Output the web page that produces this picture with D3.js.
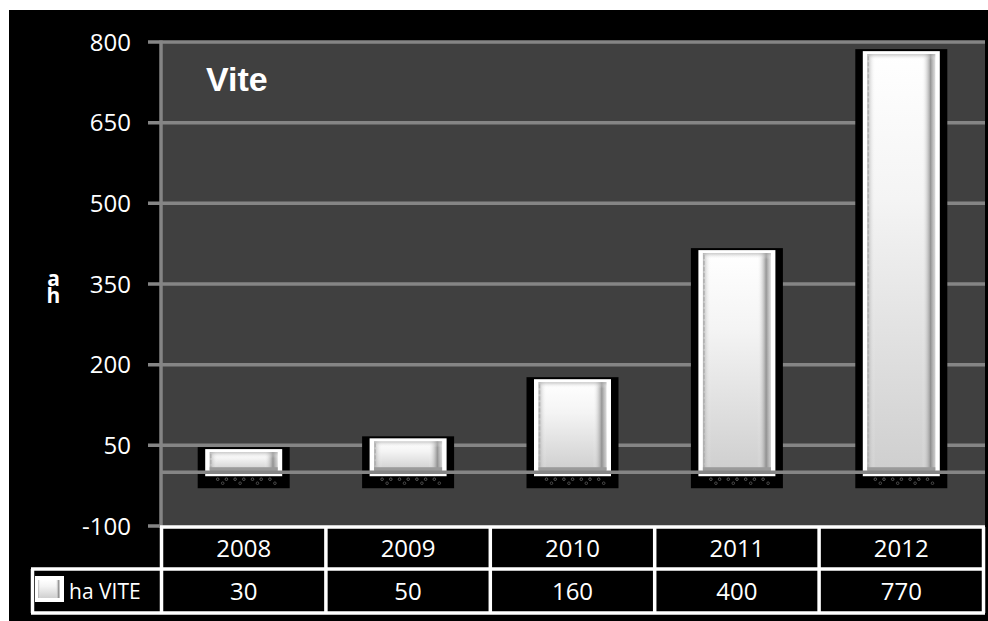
<!DOCTYPE html>
<html>
<head>
<meta charset="utf-8">
<script src="https://cdn.jsdelivr.net/npm/d3@7"></script>
<style>
  html, body { margin: 0; padding: 0; background: #ffffff; }
  svg { display: block; }
</style>
</head>
<body>
<svg id="chart" width="988" height="621"></svg>
<script>
// Hectares of vineyard per year
const years = ["2008", "2009", "2010", "2011", "2012"];
const haVite = [30, 50, 160, 400, 770];
const seriesName = "ha VITE";
const chartTitle = "Vite";
const axisTitle = "ah";
const yTicks = [-100, 50, 200, 350, 500, 650, 800];

const svg = d3.select("#chart");
const W = 988, H = 621;

const plot = { left: 160, right: 985, top: 42, bottom: 526 };
const table = { left: 161.5, right: 983.5, row1: 527, row2: 569, row3: 613, headLeft: 32.5 };

const y = d3.scaleLinear().domain([-100, 800]).range([plot.bottom, plot.top]);
const x = d3.scaleBand().domain(years).range([table.left, table.right]).padding(0);

// defs: bar shading
const defs = svg.append("defs");
const vg = defs.append("linearGradient").attr("id", "barV").attr("x1", 0).attr("y1", 0).attr("x2", 0).attr("y2", 1);
vg.append("stop").attr("offset", "0%").attr("stop-color", "#ffffff");
vg.append("stop").attr("offset", "35%").attr("stop-color", "#f4f4f4");
vg.append("stop").attr("offset", "100%").attr("stop-color", "#cfcfcf");
const hg = defs.append("linearGradient").attr("id", "barH").attr("x1", 0).attr("y1", 0).attr("x2", 1).attr("y2", 0);
hg.append("stop").attr("offset", "0%").attr("stop-color", "#9a9a9a").attr("stop-opacity", 0.7);
hg.append("stop").attr("offset", "12%").attr("stop-color", "#ffffff").attr("stop-opacity", 0);
hg.append("stop").attr("offset", "80%").attr("stop-color", "#ffffff").attr("stop-opacity", 0);
hg.append("stop").attr("offset", "93%").attr("stop-color", "#858585").attr("stop-opacity", 0.85);
hg.append("stop").attr("offset", "100%").attr("stop-color", "#c8c8c8").attr("stop-opacity", 0.6);
const tg = defs.append("linearGradient").attr("id", "barTop").attr("x1", 0).attr("y1", 0).attr("x2", 0).attr("y2", 1);
tg.append("stop").attr("offset", "0%").attr("stop-color", "#a0a0a0").attr("stop-opacity", 0.6);
tg.append("stop").attr("offset", "100%").attr("stop-color", "#ffffff").attr("stop-opacity", 0);

// background
svg.append("rect").attr("x", 9).attr("y", 10).attr("width", W - 9).attr("height", H - 10).attr("fill", "#000000");
svg.append("rect").attr("x", plot.left).attr("y", plot.top).attr("width", plot.right - plot.left)
  .attr("height", plot.bottom - plot.top).attr("fill", "#404040");

// gridlines with tick marks
const gridColor = "#858585";
svg.append("g").selectAll("line").data(yTicks.filter(d => d !== -100)).join("line")
  .attr("x1", 148).attr("x2", plot.right)
  .attr("y1", d => y(d)).attr("y2", d => y(d))
  .attr("stroke", gridColor).attr("stroke-width", 3.5);
svg.append("line").attr("x1", 148).attr("x2", plot.left).attr("y1", y(-100)).attr("y2", y(-100))
  .attr("stroke", gridColor).attr("stroke-width", 3.5);
svg.append("line").attr("x1", plot.left + 1).attr("x2", plot.left + 1).attr("y1", plot.top - 1.5).attr("y2", plot.bottom)
  .attr("stroke", gridColor).attr("stroke-width", 3.5);

// tick labels
svg.append("g").selectAll("text").data(yTicks).join("text")
  .attr("x", 131).attr("y", d => y(d)).attr("dy", "0.36em")
  .attr("text-anchor", "end")
  .attr("font-family", "Open Sans, sans-serif").attr("font-size", 24)
  .attr("fill", "#ffffff").text(d => d);

// bars
const bars = svg.append("g").selectAll("g").data(years.map((yr, i) => ({ yr, v: haVite[i] }))).join("g");
const y0 = y(0);
bars.each(function(d) {
  const g = d3.select(this);
  const c = x(d.yr) + x.bandwidth() / 2;
  const top = y(d.v);
  g.append("rect").attr("x", c - 46).attr("y", top - 9).attr("width", 92).attr("height", y0 + 16 - (top - 9)).attr("fill", "#000");
  g.append("rect").attr("x", c - 38.5).attr("y", top - 7).attr("width", 77).attr("height", y0 + 4 - (top - 7)).attr("fill", "#fff");
  const bx = c - 34, bw = 68, by = top - 4, bh = y0 - 2 - (top - 4);
  g.append("rect").attr("x", bx).attr("y", by).attr("width", bw).attr("height", bh).attr("fill", "url(#barV)");
  g.append("rect").attr("x", bx).attr("y", by).attr("width", bw).attr("height", bh).attr("fill", "url(#barH)");
  g.append("rect").attr("x", bx).attr("y", by).attr("width", bw).attr("height", Math.min(6, bh)).attr("fill", "url(#barTop)");
  g.append("line").attr("x1", bx + 1).attr("x2", bx + 1).attr("y1", by + 2).attr("y2", y0 - 3)
    .attr("stroke", "#b0b0b0").attr("stroke-width", 1.5).attr("stroke-dasharray", "4,2");
  g.append("rect").attr("x", bx).attr("y", y0 - 5).attr("width", bw).attr("height", 4).attr("fill", "#9a9a9a");
  // dotted base
  d3.range(7).forEach(k => {
    g.append("circle").attr("cx", c - 26 + k * 8.7).attr("cy", y0 + 7).attr("r", 1.3)
      .attr("fill", "none").attr("stroke", "#5a5a5a").attr("stroke-width", 1);
  });
  d3.range(4).forEach(k => {
    g.append("circle").attr("cx", c - 21 + k * 17.4).attr("cy", y0 + 11).attr("r", 1.3)
      .attr("fill", "none").attr("stroke", "#4a4a4a").attr("stroke-width", 1);
  });
});

// zero line over the bar bases
svg.append("line").attr("x1", plot.left).attr("x2", plot.right).attr("y1", y0).attr("y2", y0)
  .attr("stroke", gridColor).attr("stroke-width", 3.5);

// chart title
svg.append("text").attr("x", 206).attr("y", 91)
  .attr("font-family", "Liberation Sans, Arial, sans-serif").attr("font-weight", "bold")
  .attr("font-size", 34).attr("fill", "#ffffff").text(chartTitle);

// stacked axis title: upright glyphs set vertically
svg.append("text").attr("x", 53).attr("y", 264)
  .style("writing-mode", "vertical-rl").style("text-orientation", "upright")
  .attr("letter-spacing", -11)
  .attr("font-family", "Open Sans, sans-serif").attr("font-weight", "bold").attr("font-size", 21)
  .attr("fill", "#ffffff").text(axisTitle);

// data table
const tbl = svg.append("g");
const bStroke = "#ffffff", bW = 3.5;
tbl.append("rect").attr("x", table.left).attr("y", table.row1).attr("width", table.right - table.left)
  .attr("height", table.row3 - table.row1).attr("fill", "#000");
tbl.append("line").attr("x1", table.left - 1.5).attr("x2", table.right + 1.5).attr("y1", table.row1).attr("y2", table.row1)
  .attr("stroke", bStroke).attr("stroke-width", bW);
tbl.append("line").attr("x1", table.headLeft - 1.5).attr("x2", table.right + 1.5).attr("y1", table.row2).attr("y2", table.row2)
  .attr("stroke", bStroke).attr("stroke-width", bW);
tbl.append("line").attr("x1", table.headLeft - 1.5).attr("x2", table.right + 1.5).attr("y1", table.row3).attr("y2", table.row3)
  .attr("stroke", bStroke).attr("stroke-width", bW);
tbl.append("line").attr("x1", table.headLeft).attr("x2", table.headLeft).attr("y1", table.row2).attr("y2", table.row3)
  .attr("stroke", bStroke).attr("stroke-width", bW);
const colEdges = years.map(yr => x(yr)).concat([table.right]);
tbl.selectAll("line.col").data(colEdges).join("line").attr("class", "col")
  .attr("x1", d => d).attr("x2", d => d).attr("y1", table.row1).attr("y2", table.row3)
  .attr("stroke", bStroke).attr("stroke-width", bW);

tbl.selectAll("text.yr").data(years).join("text").attr("class", "yr")
  .attr("x", d => x(d) + x.bandwidth() / 2).attr("y", (table.row1 + table.row2) / 2).attr("dy", "0.36em")
  .attr("text-anchor", "middle").attr("font-family", "Open Sans, sans-serif").attr("font-size", 24)
  .attr("fill", "#ffffff").text(d => d);
tbl.selectAll("text.val").data(haVite).join("text").attr("class", "val")
  .attr("x", (d, i) => x(years[i]) + x.bandwidth() / 2).attr("y", (table.row2 + table.row3) / 2).attr("dy", "0.36em")
  .attr("text-anchor", "middle").attr("font-family", "Open Sans, sans-serif").attr("font-size", 24)
  .attr("fill", "#ffffff").text(d => d);

// legend key + series name
tbl.append("rect").attr("x", 35).attr("y", 576).attr("width", 29).attr("height", 26).attr("fill", "#ffffff");
tbl.append("rect").attr("x", 38).attr("y", 580).attr("width", 22).attr("height", 18).attr("fill", "url(#barV)");
tbl.append("rect").attr("x", 38).attr("y", 580).attr("width", 22).attr("height", 18).attr("fill", "url(#barH)");
tbl.append("text").attr("x", 69).attr("y", (table.row2 + table.row3) / 2).attr("dy", "0.36em")
  .attr("font-family", "Open Sans, sans-serif").attr("font-size", 21)
  .attr("fill", "#ffffff").text(seriesName);
</script>
</body>
</html>
